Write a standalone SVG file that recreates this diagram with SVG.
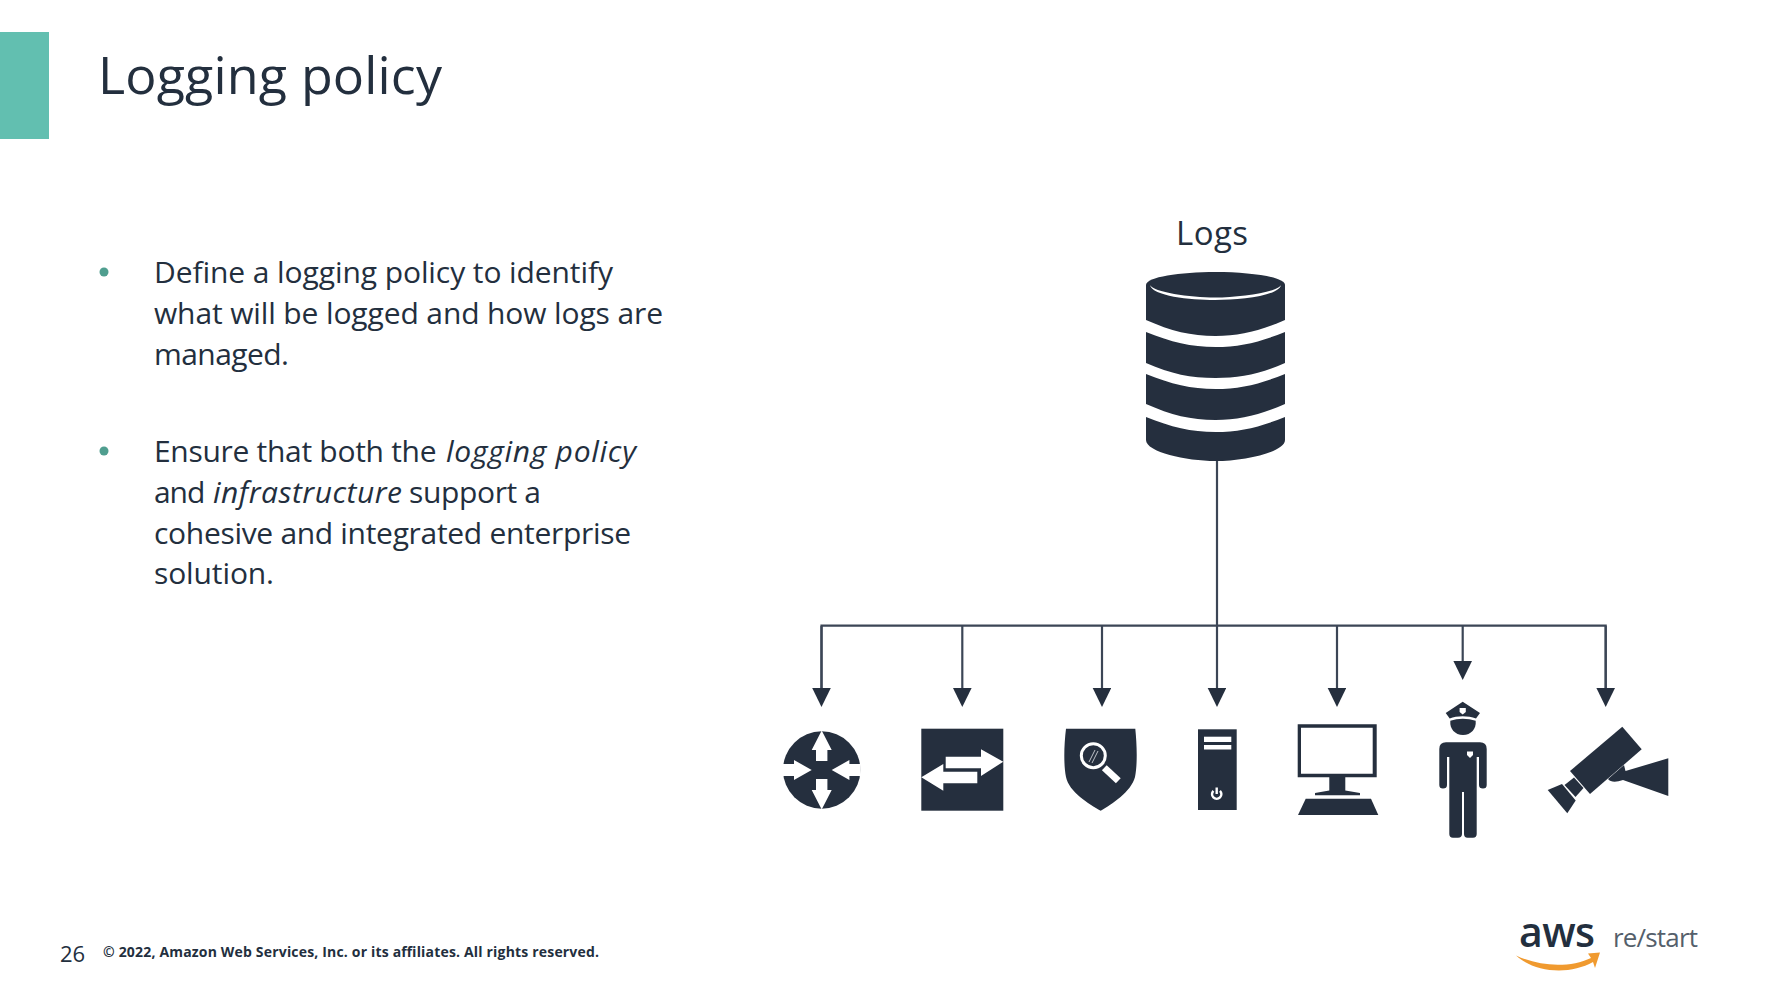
<svg xmlns="http://www.w3.org/2000/svg" width="1788" height="1002" viewBox="0 0 1788 1002">
<style>
text{font-family:"Open Sans","Noto Sans","Liberation Sans",sans-serif;fill:#232f3e}
.body{font-size:30px}
.i{font-style:italic}
.dark{fill:#252f3e}
.w{fill:#fff}
.conn{stroke:#3c4656;stroke-width:2.2;fill:none}
</style>
<defs>
<marker id="arrow" markerUnits="userSpaceOnUse" markerWidth="20" markerHeight="20" refX="0" refY="9.3" orient="auto"><path d="M0 0L19 9.3L0 18.6Z" fill="#252f3e"/></marker>
</defs>
<rect width="1788" height="1002" fill="#fff"/>
<rect id="accent" x="0" y="32" width="49" height="107" fill="#62bfb0"/>
<text id="title" x="98" y="94" font-size="52" textLength="344">Logging policy</text>
<g id="bullets">
<circle cx="104" cy="272" r="4.5" fill="#4f9e8f"/>
<circle cx="104" cy="451" r="4.5" fill="#4f9e8f"/>
<text class="body" x="154" y="283" textLength="459">Define a logging policy to identify</text>
<text class="body" x="154" y="324" textLength="509">what will be logged and how logs are</text>
<text class="body" x="154" y="365" textLength="135">managed.</text>
<text class="body" x="154" y="462"><tspan textLength="290">Ensure that both the </tspan><tspan class="i" x="446" textLength="190">logging policy</tspan></text>
<text class="body" x="154" y="503"><tspan textLength="58">and </tspan><tspan class="i" x="213" textLength="189">infrastructure</tspan><tspan x="409" textLength="132">support a</tspan></text>
<text class="body" x="154" y="544" textLength="477">cohesive and integrated enterprise</text>
<text class="body" x="154" y="584" textLength="120">solution.</text>
</g>
<text id="logs-label" x="1176" y="245" font-size="33" textLength="72">Logs</text>
<g id="connectors" class="conn">
<path d="M1217 461V688" marker-end="url(#arrow)"/>
<path d="M821.5 688V625.7H1605.7V688"/>
<path d="M821.5 626V688" marker-end="url(#arrow)"/>
<path d="M962.3 626V688" marker-end="url(#arrow)"/>
<path d="M1102 626V688" marker-end="url(#arrow)"/>
<path d="M1337 626V688" marker-end="url(#arrow)"/>
<path d="M1462.7 626V661" marker-end="url(#arrow)"/>
<path d="M1605.7 626V688" marker-end="url(#arrow)"/>
</g>
<g id="database">
<path class="dark" d="M1146 285C1146 277 1180 272 1215.5 272C1251 272 1285 277 1285 285V320C1260 331 1240 336 1215.5 336C1191 336 1171 331 1146 320Z"/>
<path class="w" d="M1150 285C1152 296 1190 300 1215 300C1240 300 1279 296 1281 285C1278 292 1240 297.5 1215 297.5C1190 297.5 1153 292 1150 285Z"/>
<path class="dark" d="M1146 332C1171 342 1191 347 1215.5 347C1240 347 1260 342 1285 332V363C1260 374 1240 378 1215.5 378C1191 378 1171 374 1146 363Z"/>
<path class="dark" d="M1146 374C1171 384 1191 389 1215.5 389C1240 389 1260 384 1285 374V404C1260 415 1240 420 1215.5 420C1191 420 1171 415 1146 404Z"/>
<path class="dark" d="M1146 417C1171 427 1191 432 1215.5 432C1240 432 1260 427 1285 417V440C1285 452 1245 461 1215.5 461C1186 461 1146 452 1146 440Z"/>
</g>
<g id="router" transform="translate(821.7 770)">
<circle class="dark" r="38.7"/>
<g class="w">
<path d="M0-39.5L10-20H5.7V-9H-5.7V-20H-10Z"/>
<path d="M0 39.5L10 20H5.7V9H-5.7V20H-10Z"/>
<path d="M-10 0L-27.7-10V-6H-39V6H-27.7V10Z"/>
<path d="M10 0L27.7-10V-6H39V6H27.7V10Z"/>
</g>
</g>
<g id="switch">
<rect class="dark" x="921.3" y="728.7" width="82" height="82"/>
<path class="w" d="M945.7 756.7H981V749.3L1003.3 761.7L981 776V768.3H945.7Z"/>
<path class="w" d="M921.3 777.3L943.3 764V771.7H977.3V783.3H943.3V790.7Z"/>
</g>
<g id="shield">
<path class="dark" d="M1066 728.7H1135.3C1137 745 1137.5 765 1135 777C1131 792 1112 804 1100.7 810.7C1089 804 1069 792 1066 777C1063.5 765 1064 745 1066 728.7Z"/>
<circle cx="1093.3" cy="755.7" r="12" fill="none" stroke="#fff" stroke-width="3"/>
<path d="M1104.3 767.7L1118.3 780.7" stroke="#fff" stroke-width="7" fill="none"/>
<path d="M1089 762L1095 750M1092 763L1098 751" stroke="#cfd3d8" stroke-width="0.9" fill="none"/>
</g>
<g id="server">
<rect class="dark" x="1198" y="729.3" width="38.7" height="80.7"/>
<rect class="w" x="1204" y="736.7" width="27.3" height="5.3"/>
<rect class="w" x="1204" y="745" width="27.3" height="4.5"/>
<path d="M1213.4 790.8A4.7 4.7 0 1 0 1220 790.8" fill="none" stroke="#fff" stroke-width="2.4"/>
<path d="M1216.7 787.5V794" stroke="#fff" stroke-width="2.4"/>
</g>
<g id="computer">
<path class="dark" fill-rule="evenodd" d="M1297.7 724.3H1376.7V777.3H1345.3V790.5L1360 793V795.3H1315V793L1329.3 790.5V777.3H1297.7ZM1301 727.7V773.7H1372.7V727.7Z"/>
<path class="dark" d="M1305.7 798.7H1371L1378.3 815H1298Z"/>
</g>
<g id="officer">
<path class="dark" d="M1462.7 701.7L1480 713L1476 718.5C1468 715.5 1457 715.5 1449.7 718.5L1445.7 713Z"/>
<path class="w" d="M1459.6 708H1465.8V712L1462.7 714.5L1459.6 712Z"/>
<path class="dark" d="M1450.3 720.8C1458 718 1467.5 718 1475.7 720.8C1476.5 729 1471 735 1463 735C1455 735 1449.5 729 1450.3 720.8Z"/>
<path class="dark" d="M1446 742.3H1480Q1486.7 742.3 1486.7 749V785Q1486.7 788.5 1483 788.5Q1479 788.5 1479 785V757H1476.7V834Q1476.7 837.7 1473 837.7H1467.5Q1464 837.7 1464 834V792H1462V834Q1462 837.7 1458 837.7H1453Q1449.3 837.7 1449.3 834V757H1447V785Q1447 788.5 1443 788.5Q1439.3 788.5 1439.3 785V749Q1439.3 742.3 1446 742.3Z"/>
<path class="w" d="M1467 751.5H1473V755L1470 758L1467 755Z"/>
</g>
<g id="camera">
<path class="dark" d="M1622.3 726.7L1641.7 749.3L1590 794L1570 771Z"/>
<path class="dark" d="M1564.5 785L1574 777.5L1583.5 788L1575.5 797Z"/>
<path class="dark" d="M1547.7 790L1562 784L1575.7 800.5L1567.3 813.3Z"/>
<path class="dark" d="M1668.3 758.3V796L1623 780Q1612 784 1608 779L1624 765L1625.5 771Z"/>
</g>
<text id="page" x="60" y="962" font-size="22" textLength="25">26</text>
<text id="copyright" x="103" y="957" font-size="14" font-weight="700" textLength="496">© 2022, Amazon Web Services, Inc. or its affiliates. All rights reserved.</text>
<g id="logo">
<text x="1519" y="947" font-size="41" font-weight="600" textLength="76">aws</text>
<text x="1613" y="947" font-size="26" textLength="85" style="fill:#555f6b">re/start</text>
<path d="M1516 955.5C1540 967 1570 968 1591 958L1588 953.5L1600 952.5L1595 968L1593 962C1570 975 1535 973 1516 955.5Z" fill="#f09a2f"/>
</g>
</svg>
